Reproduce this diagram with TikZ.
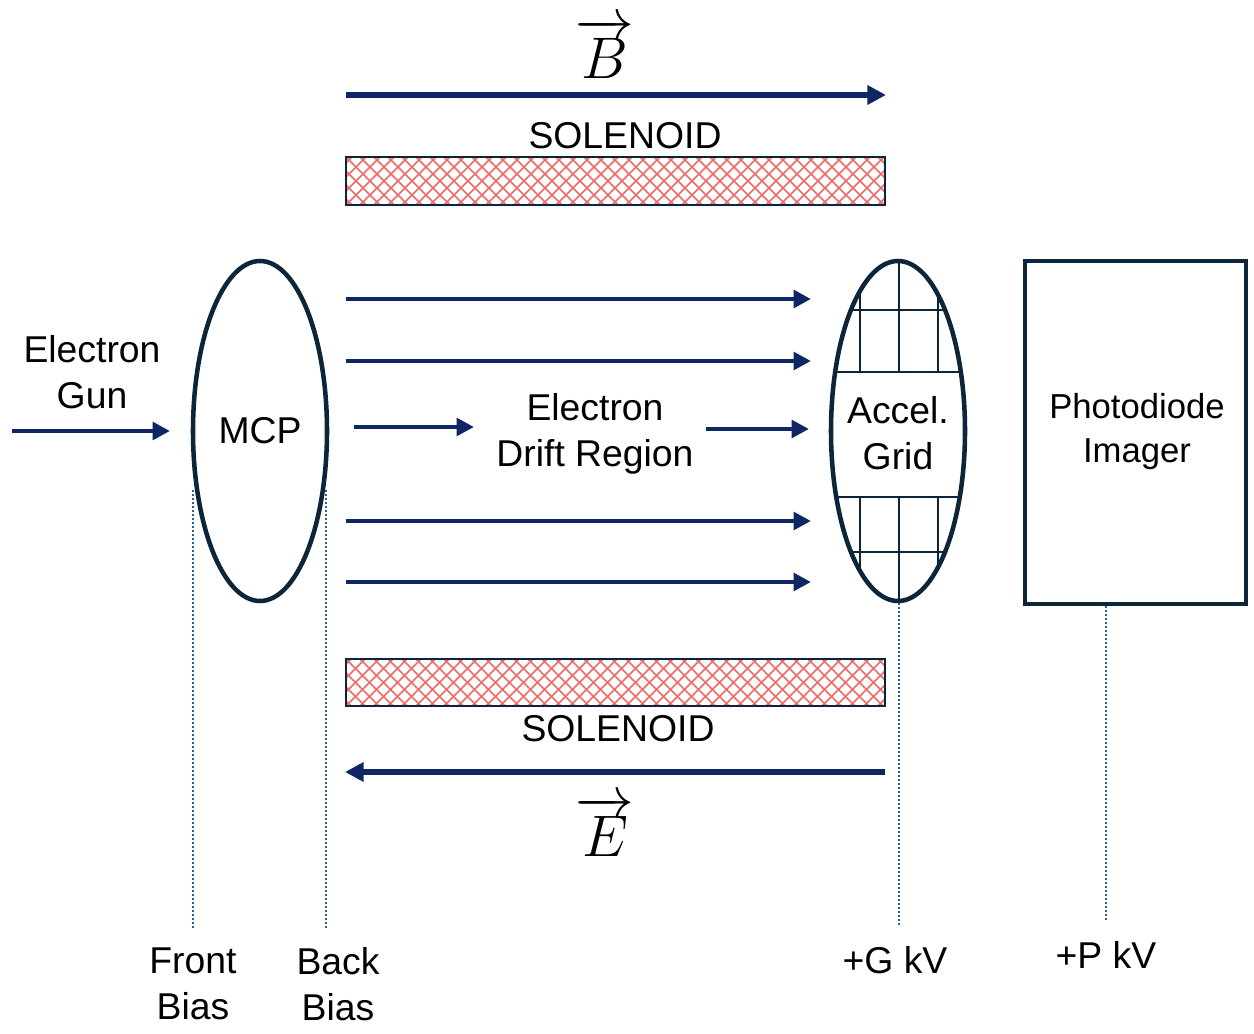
\RequirePackage{fix-cm}
\documentclass[tikz,border=0pt]{standalone}
\usepackage{fontspec}
\setmainfont{Liberation Sans}
\usetikzlibrary{arrows.meta,shapes.geometric}
\definecolor{navy}{RGB}{14,38,100}
\definecolor{darkline}{RGB}{13,37,56}
\definecolor{hatchred}{RGB}{240,105,105}
\definecolor{dotblue}{RGB}{40,100,145}
\tikzset{
  lbl/.style={font=\fontsize{28}{36}\selectfont, align=center, inner sep=0pt},
  flow/.style={draw=navy, line width=3.5pt, -{Triangle[length=13pt,width=13pt]}},
  field/.style={draw=navy, line width=3.8pt, -{Triangle[length=14pt,width=14pt]}},
  disc/.style={ellipse, draw=darkline, line width=3.4pt, minimum width=100.5pt, minimum height=255pt, inner sep=0pt},
  coilbox/.style={draw=darkline, line width=2.2pt},
  hatch/.style={draw=hatchred, line width=1.1pt},
  gridline/.style={draw=darkline, line width=1.6pt},
  lead/.style={draw=dotblue, line width=2.1pt, dash pattern=on 1.5pt off 1.5pt},
  vecl/.style={font=\fontsize{44}{48}\selectfont, inner sep=0pt}
}
\begin{document}
\begin{tikzpicture}[x=0.75pt,y=-0.75pt]
\useasboundingbox (0,0) rectangle (1254,1034);

% B field
\coordinate (b1) at (346,95);
\coordinate (b2) at (886,95);
\draw[field] (b1) -- (b2);
\node[vecl] (blab) at (605,48) {$\overrightarrow{B}$};

% top solenoid
\node[lbl] (sol1) at (625,136) {SOLENOID};
\begin{scope}
  \clip (346,157) rectangle (885,205);
  \foreach \i in {-60,-46,...,900} {
    \draw[hatch] (\i,205) -- (\i+48,157);
    \draw[hatch] (\i,157) -- (\i+48,205);
  }
\end{scope}
\draw[coilbox] (346,157) rectangle (885,205);

% bottom solenoid
\begin{scope}
  \clip (346,659) rectangle (885,706);
  \foreach \i in {-60,-46,...,900} {
    \draw[hatch] (\i,706) -- (\i+47,659);
    \draw[hatch] (\i,659) -- (\i+47,706);
  }
\end{scope}
\draw[coilbox] (346,659) rectangle (885,706);
\node[lbl] (sol2) at (618,729) {SOLENOID};

% E field
\coordinate (e1) at (885,772);
\coordinate (e2) at (345,772);
\draw[field] (e1) -- (e2);
\node[vecl] (elab) at (605,826) {$\overrightarrow{E}$};

% Electron gun
\node[lbl] (gun) at (92,372) {Electron\\[-1pt]Gun};
\coordinate (g1) at (12,431);
\coordinate (g2) at (170,431);
\draw[flow] (g1) -- (g2);

% MCP
\node[disc] (mcp) at (260,431) {};
\node[lbl] (mcplab) at (260,431) {MCP};

% Accel grid
\begin{scope}
  \clip (898,431) ellipse [x radius=50.25pt, y radius=127.5pt];
  \foreach \y in {310,372,497,552} \draw[gridline] (820,\y) -- (980,\y);
  \foreach \x in {860,899,938} {
    \draw[gridline] (\x,250) -- (\x,372);
    \draw[gridline] (\x,497) -- (\x,615);
  }
\end{scope}
\node[disc] (grid) at (898,431) {};
\node[lbl] (gridlab) at (898,433) {Accel.\\[-1pt]Grid};

% Photodiode imager
\node[draw=darkline, line width=3.6pt, minimum width=165.75pt, minimum height=257.25pt, inner sep=0pt] (pd) at (1135.5,432.5) {};
\node[lbl, font=\fontsize{26}{33}\selectfont] (pdlab) at (1137,432) {Photodiode\\[0pt]Imager};

% drift arrows
\foreach \y/\n in {299/1,361/2,521/3,582/4} {
  \coordinate (d\n a) at (346,\y);
  \coordinate (d\n b) at (811,\y);
  \draw[flow] (d\n a) -- (d\n b);
}
\coordinate (m1a) at (354,427);
\coordinate (m1b) at (474,427);
\draw[flow] (m1a) -- (m1b);
\coordinate (m2a) at (706,429);
\coordinate (m2b) at (809,429);
\draw[flow] (m2a) -- (m2b);
\node[lbl] (drift) at (595,434) {Electron\\[-1pt]Drift Region};

% leads
\coordinate (f1) at (193,490);
\coordinate (f2) at (193,928);
\coordinate (k1) at (326,490);
\coordinate (k2) at (326,928);
\coordinate (gl1) at (899,603);
\coordinate (gl2) at (899,925);
\coordinate (p1) at (1106,606);
\coordinate (p2) at (1106,922);
\draw[lead] (f1) -- (f2);
\draw[lead] (k1) -- (k2);
\draw[lead] (gl1) -- (gl2);
\draw[lead] (p1) -- (p2);

\node[lbl] (front) at (193,984) {Front\\[-1pt]Bias};
\node[lbl] (back) at (338,984) {Back\\[-1pt]Bias};
\node[lbl] (gkv) at (895,960) {+G kV};
\node[lbl] (pkv) at (1106,955) {+P kV};
\end{tikzpicture}
\end{document}
